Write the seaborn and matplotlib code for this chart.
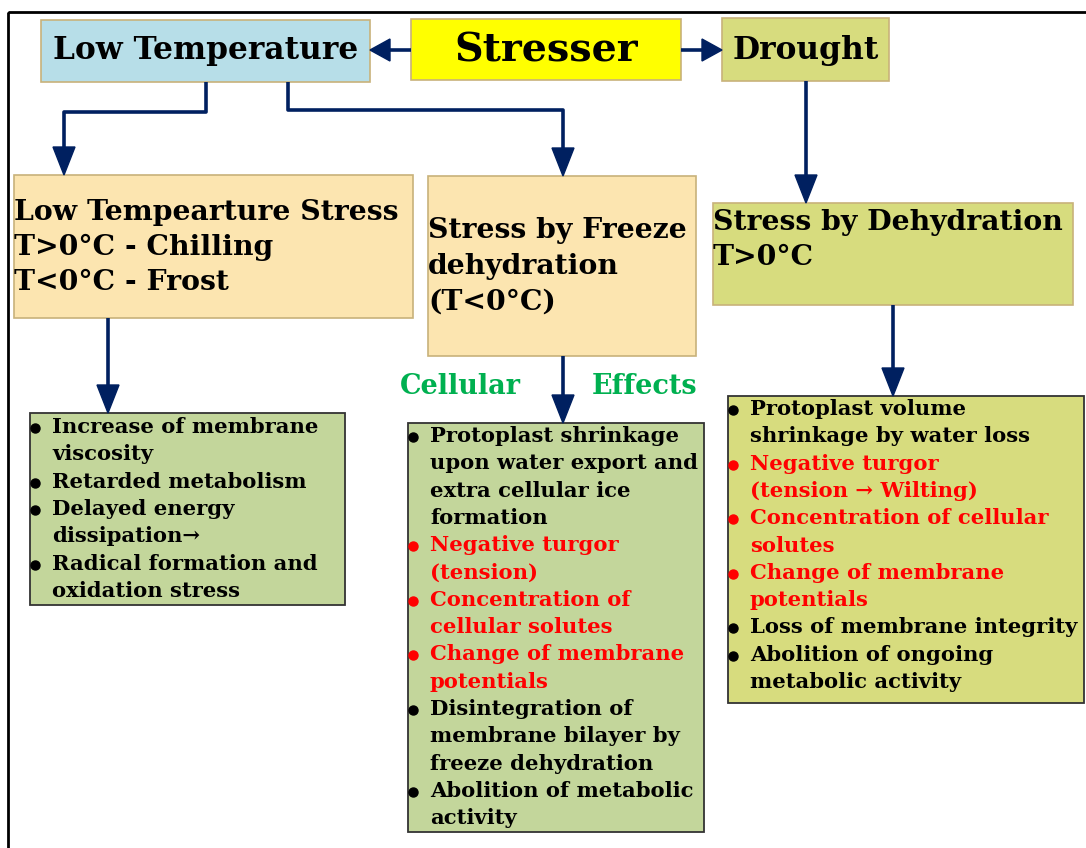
import matplotlib.pyplot as plt
import seaborn as sns
from matplotlib.patches import Rectangle, Polygon

sns.set_theme(style="white")
plt.rcParams['font.family'] = ['DejaVu Serif', 'DejaVu Sans']
plt.rcParams['text.color'] = 'black'

NAVY = '#002060'
RED = '#ff0000'
BLACK = '#000000'
GREEN_TXT = '#00b050'

# top row
top_labels = ['Low Temperature', 'Stresser', 'Drought']

# second row titles
title_cold = ['Low Tempearture Stress', 'T>0°C - Chilling', 'T<0°C - Frost']
title_freeze = ['Stress by Freeze', 'dehydration', '(T<0°C)']
title_dry = ['Stress by Dehydration', 'T>0°C']

# effect lists: (lines of one bullet, colour)
effects_cold = [
    (['Increase of membrane', 'viscosity'], BLACK),
    (['Retarded metabolism'], BLACK),
    (['Delayed energy', 'dissipation\u2192'], BLACK),
    (['Radical formation and', 'oxidation stress'], BLACK),
]
effects_freeze = [
    (['Protoplast shrinkage', 'upon water export and', 'extra cellular ice', 'formation'], BLACK),
    (['Negative turgor', '(tension)'], RED),
    (['Concentration of', 'cellular solutes'], RED),
    (['Change of membrane', 'potentials'], RED),
    (['Disintegration of', 'membrane bilayer by', 'freeze dehydration'], BLACK),
    (['Abolition of metabolic', 'activity'], BLACK),
]
effects_dry = [
    (['Protoplast volume', 'shrinkage by water loss'], BLACK),
    (['Negative turgor', '(tension \u2192 Wilting)'], RED),
    (['Concentration of cellular', 'solutes'], RED),
    (['Change of membrane', 'potentials'], RED),
    (['Loss of membrane integrity'], BLACK),
    (['Abolition of ongoing', 'metabolic activity'], BLACK),
]

fig = plt.figure(figsize=(10.86, 8.48), dpi=100)
ax = fig.add_axes([0, 0, 1, 1])
ax.set_xlim(0, 1086)
ax.set_ylim(848, 0)
ax.axis('off')

# outer frame
ax.add_patch(Rectangle((8, 12), 1100, 860, fill=False, ec='black', lw=2))


def box(x0, y0, x1, y1, fc, ec='#c8b27a', lw=1.2):
    ax.add_patch(Rectangle((x0, y0), x1 - x0, y1 - y0, fc=fc, ec=ec, lw=lw, zorder=2))


def line(xs, ys):
    ax.plot(xs, ys, color=NAVY, lw=2.6, solid_capstyle='butt', zorder=3)


def head_down(x, y_tip, w=22, l=28):
    ax.add_patch(Polygon([(x - w / 2, y_tip - l), (x + w / 2, y_tip - l), (x, y_tip)],
                         closed=True, fc=NAVY, ec=NAVY, zorder=4))


def head_side(x_tip, y, direction, w=22, l=20):
    xb = x_tip - direction * l
    ax.add_patch(Polygon([(xb, y - w / 2), (xb, y + w / 2), (x_tip, y)],
                         closed=True, fc=NAVY, ec=NAVY, zorder=4))


# boxes
box(41, 20, 370, 82, '#b7dee8')
box(411, 19, 681, 80, '#ffff00')
box(722, 18, 889, 81, '#d7dc7e')
box(14, 175, 413, 318, '#fce5b0')
box(428, 176, 696, 356, '#fce5b0')
box(713, 203, 1073, 305, '#d7dc7e')
box(30, 413, 345, 605, '#c3d69b', ec='#333333', lw=1.3)
box(408, 423, 704, 832, '#c3d69b', ec='#333333', lw=1.3)
box(728, 396, 1084, 703, '#d7dc7e', ec='#333333', lw=1.3)

# top labels
ax.text(206, 51, top_labels[0], fontsize=22.5, fontweight='bold', ha='center', va='center', zorder=5)
ax.text(546, 50, top_labels[1], fontsize=28.5, fontweight='bold', ha='center', va='center', zorder=5)
ax.text(806, 50, top_labels[2], fontsize=22.5, fontweight='bold', ha='center', va='center', zorder=5)

# arrows
line([411, 385], [50, 50]); head_side(370, 50, -1)
line([681, 705], [50, 50]); head_side(722, 50, 1)
line([206, 206, 64, 64], [82, 112, 112, 150]); head_down(64, 175)
line([288, 288, 563, 563], [82, 110, 110, 150]); head_down(563, 176)
line([806, 806], [81, 178]); head_down(806, 203)
line([108, 108], [318, 388]); head_down(108, 413)
line([563, 563], [356, 398]); head_down(563, 423)
line([893, 893], [305, 371]); head_down(893, 396)


def title(lines, x, y0, dy=35.5, fs=20.3):
    for i, t in enumerate(lines):
        ax.text(x, y0 + i * dy, t, fontsize=fs, fontweight='bold', ha='left', va='center', zorder=5)


title(title_cold, 14, 212)
title(title_freeze, 428, 231)
title(title_dry, 713, 222)

ax.text(400, 387, 'Cellular', fontsize=19.5, fontweight='bold', color=GREEN_TXT, ha='left', va='center', zorder=5)
ax.text(592, 387, 'Effects', fontsize=19.5, fontweight='bold', color=GREEN_TXT, ha='left', va='center', zorder=5)


def bullets(items, xb, xt, y0, dy=27.3, fs=15.2):
    k = 0
    for lines, c in items:
        ax.plot([xb], [y0 + k * dy + 1], marker='o', ms=6.5, color=c, zorder=5)
        for t in lines:
            ax.text(xt, y0 + k * dy, t, fontsize=fs, fontweight='bold', color=c,
                    ha='left', va='center', zorder=5)
            k += 1


bullets(effects_cold, 35, 52, 427)
bullets(effects_freeze, 413, 430, 436)
bullets(effects_dry, 733, 750, 409)

fig.savefig('out.png', dpi=100)
